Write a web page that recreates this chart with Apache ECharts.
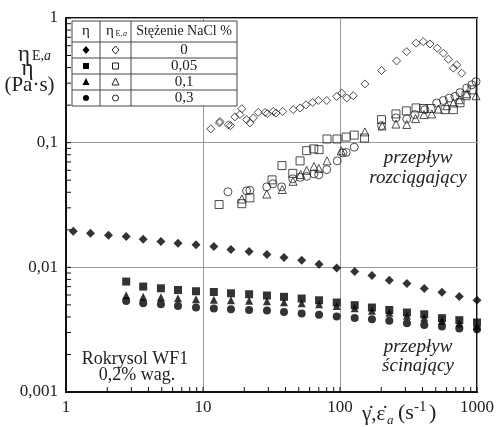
<!DOCTYPE html>
<html>
<head>
<meta charset="utf-8">
<script src="https://cdn.jsdelivr.net/npm/echarts@6/dist/echarts.min.js"></script>
<style>html,body{margin:0;padding:0;background:#fff}#chart{width:503px;height:427px}</style>
</head>
<body>
<div id="chart"></div>
<script>
// shear viscosity (filled symbols), one shear-rate grid for all
var shearRate = [1.13, 1.51, 2.04, 2.75, 3.66, 4.93, 6.57, 8.89, 12.0, 16.0, 21.7, 29.3, 39, 52.5, 70.3, 94.6, 128, 171, 229, 308, 412, 555, 743, 1000];
var eta0 = [0.0195, 0.0188, 0.0181, 0.0177, 0.0168, 0.0161, 0.0156, 0.0152, 0.0147, 0.0139, 0.0134, 0.0127, 0.0120, 0.0114, 0.0106, 0.00987, 0.00924, 0.00859, 0.00787, 0.00741, 0.00676, 0.00631, 0.00583, 0.00544];
var eta005 = [0.00769, 0.00701, 0.00679, 0.00658, 0.00643, 0.00634, 0.00619, 0.00608, 0.00594, 0.00580, 0.00562, 0.00544, 0.00522, 0.00497, 0.00476, 0.00455, 0.00434, 0.00420, 0.00391, 0.00377, 0.00361];
var eta01 = [0.00597, 0.00581, 0.00575, 0.00565, 0.00555, 0.00550, 0.00545, 0.00540, 0.00535, 0.00525, 0.00515, 0.00506, 0.00490, 0.00470, 0.00449, 0.00433, 0.00409, 0.00394, 0.00373, 0.00356, 0.00337];
var eta03 = [0.00537, 0.00515, 0.00506, 0.00490, 0.00476, 0.00467, 0.00461, 0.00455, 0.00450, 0.00439, 0.00426, 0.00416, 0.00403, 0.00393, 0.00384, 0.00372, 0.00356, 0.00344, 0.00335, 0.00323, 0.00319];

// extensional viscosity (open symbols)
var extRate0 = [11.4, 13.2, 13.3, 15.3, 15.9, 17.1, 18.6, 19.2, 20.8, 22.0, 23.3, 25.3, 28.4, 29.5, 32.6, 34.1, 38.2, 45.6, 51.1, 56.5, 63.2, 69.5, 80.0, 94.6, 103, 112, 125, 152, 201, 259, 307, 359, 405, 454, 513, 568, 618, 672, 711, 773];
var etaE0 = [0.129, 0.144, 0.148, 0.139, 0.137, 0.161, 0.168, 0.187, 0.153, 0.144, 0.158, 0.175, 0.175, 0.171, 0.178, 0.173, 0.178, 0.184, 0.190, 0.201, 0.210, 0.218, 0.218, 0.235, 0.250, 0.228, 0.238, 0.296, 0.379, 0.453, 0.537, 0.628, 0.646, 0.619, 0.573, 0.522, 0.467, 0.396, 0.421, 0.361];
var extRate005 = [13.1, 19.2, 22.0, 31.9, 37.7, 45.2, 51.1, 57.1, 64.3, 70.3, 80.4, 95.1, 111, 127, 151, 201, 256, 305, 359, 407, 461, 584, 672, 752, 831, 920];
var etaE005 = [0.0319, 0.0324, 0.0361, 0.0503, 0.0655, 0.0567, 0.0714, 0.0863, 0.0891, 0.0879, 0.107, 0.107, 0.111, 0.115, 0.109, 0.153, 0.170, 0.180, 0.190, 0.188, 0.188, 0.184, 0.184, 0.209, 0.238, 0.265];
var extRate01 = [19.2, 29.2, 37.9, 45.4, 51.6, 57.1, 64.6, 70.0, 80.4, 102, 152, 203, 256, 307, 356, 410, 467, 522, 601, 672, 743, 841, 984];
var etaE01 = [0.0353, 0.0387, 0.0421, 0.0490, 0.0555, 0.0600, 0.0643, 0.0622, 0.0715, 0.0860, 0.122, 0.136, 0.141, 0.140, 0.156, 0.168, 0.170, 0.186, 0.198, 0.208, 0.221, 0.247, 0.238];
var extRate03 = [15.2, 20.8, 22.0, 29.2, 32.4, 37.5, 45.2, 51.1, 57.1, 64.6, 70.0, 80.0, 95.5, 105, 111, 127, 201, 256, 307, 352, 417, 508, 568, 628, 691, 751, 841, 915, 984];
var etaE03 = [0.0404, 0.0411, 0.0415, 0.0442, 0.0468, 0.0442, 0.0513, 0.0527, 0.0537, 0.0562, 0.0552, 0.0608, 0.0715, 0.0828, 0.0835, 0.0920, 0.137, 0.158, 0.155, 0.168, 0.184, 0.208, 0.218, 0.228, 0.235, 0.252, 0.274, 0.291, 0.309];

var concLabels = ['0', '0,05', '0,1', '0,3'];
var xTicks = [1, 2, 3, 4, 5, 6, 7, 8, 9, 10, 20, 30, 40, 50, 60, 70, 80, 90, 100, 200, 300, 400, 500, 600, 700, 800, 900, 1000];
var yTicks = [0.001, 0.002, 0.003, 0.004, 0.005, 0.006, 0.007, 0.008, 0.009, 0.01, 0.02, 0.03, 0.04, 0.05, 0.06, 0.07, 0.08, 0.09, 0.1, 0.2, 0.3, 0.4, 0.5, 0.6, 0.7, 0.8, 0.9, 1];

var serif = '"Liberation Serif", "Times New Roman", serif';
var xMin = xTicks[0], xMax = xTicks[xTicks.length - 1];
var yMin = yTicks[0], yMax = yTicks[yTicks.length - 1];

function pairs(xs, ys) {
	return ys.map(function (y, i) { return [xs[i], y]; });
}

function filled(name, symbol, size, data) {
	return {
		name: name, type: 'scatter',
		symbol: symbol, symbolSize: size, data: data,
		itemStyle: {color: '#000'}, z: 3
	};
}
function open(name, symbol, size, data) {
	return {
		name: name, type: 'scatter',
		symbol: symbol, symbolSize: size, data: data,
		itemStyle: {color: 'rgba(0,0,0,0)', borderColor: '#222', borderWidth: 1}, z: 4
	};
}

// inward log ticks (2..9 in each decade), placed through the axes
function tickSeries(vertical) {
	var data = vertical ? yTicks.map(function (v) { return [xMin, v]; })
	                    : xTicks.map(function (v) { return [v, yMin]; });
	return {
		type: 'custom', silent: true, clip: false, z: 5, data: data,
		renderItem: function (params, api) {
			var p = api.coord([api.value(0), api.value(1)]);
			return {
				type: 'line',
				shape: vertical ? {x1: p[0], y1: p[1], x2: p[0] + 5, y2: p[1]}
				                : {x1: p[0], y1: p[1], x2: p[0], y2: p[1] - 5},
				style: {stroke: '#111', lineWidth: 1}
			};
		}
	};
}

// legend table glyphs
function glyph(kind, cx, cy, solid) {
	var st = solid ? {fill: '#000'} : {fill: 'none', stroke: '#222', lineWidth: 1};
	if (kind == 'diamond') return {type: 'polygon', shape: {points: [[cx, cy - 4], [cx + 3.5, cy], [cx, cy + 4], [cx - 3.5, cy]]}, style: st, z: 101};
	if (kind == 'rect') return {type: 'rect', shape: {x: cx - 3, y: cy - 3, width: 6, height: 6}, style: st, z: 101};
	if (kind == 'triangle') return {type: 'polygon', shape: {points: [[cx, cy - 4], [cx + 3.5, cy + 3], [cx - 3.5, cy + 3]]}, style: st, z: 101};
	return {type: 'circle', shape: {cx: cx, cy: cy, r: 3}, style: st, z: 101};
}
function txt(s, x, y, size, opts) {
	opts = opts || {};
	return {
		type: 'text', x: x, y: y, z: 102,
		style: {
			text: s, fill: '#222',
			font: (opts.italic ? 'italic ' : '') + size + 'px ' + serif,
			textAlign: opts.align || 'center', align: opts.align || 'center',
			textVerticalAlign: 'middle', verticalAlign: 'middle'
		}
	};
}

var kinds = ['diamond', 'rect', 'triangle', 'circle'];
var rowY = [50, 66, 82, 98];
var table = [
	{type: 'rect', shape: {x: 72, y: 21, width: 165, height: 85}, style: {fill: '#fff', stroke: '#444', lineWidth: 1}, z: 100},
	{type: 'line', shape: {x1: 100, y1: 21, x2: 100, y2: 106}, style: {stroke: '#444', lineWidth: 1}, z: 100},
	{type: 'line', shape: {x1: 131, y1: 21, x2: 131, y2: 106}, style: {stroke: '#444', lineWidth: 1}, z: 100},
	{type: 'line', shape: {x1: 72, y1: 42, x2: 237, y2: 42}, style: {stroke: '#444', lineWidth: 1}, z: 100},
	{type: 'line', shape: {x1: 72, y1: 58, x2: 237, y2: 58}, style: {stroke: '#444', lineWidth: 1}, z: 100},
	{type: 'line', shape: {x1: 72, y1: 74, x2: 237, y2: 74}, style: {stroke: '#444', lineWidth: 1}, z: 100},
	{type: 'line', shape: {x1: 72, y1: 90, x2: 237, y2: 90}, style: {stroke: '#444', lineWidth: 1}, z: 100},
	txt('η', 86, 31, 15),
	txt('η', 110, 31, 15),
	txt('E,', 119, 34, 8, {align: 'center'}),
	txt('a', 125, 34, 8, {italic: true}),
	txt('Stężenie NaCl %', 184, 31, 14)
];
kinds.forEach(function (k, i) {
	table.push(glyph(k, 86, rowY[i], true));
	table.push(glyph(k, 115.5, rowY[i], false));
	table.push(txt(concLabels[i], 184, rowY[i], 15));
});

var notes = [
	txt('przepływ', 418, 158, 19, {italic: true}),
	txt('rozciągający', 418, 178, 19, {italic: true}),
	txt('przepływ', 418, 347, 19, {italic: true}),
	txt('ścinający', 418, 366, 19, {italic: true}),
	txt('Rokrysol WF1', 135, 359, 18),
	txt('0,2% wag.', 137, 375, 18),
	// y axis title
	txt('η', 18, 55, 23, {align: 'left'}),
	txt('E,', 32, 56, 14, {align: 'left'}),
	txt('a', 44, 56, 14, {align: 'left', italic: true}),
	txt('η', 27.5, 69, 23),
	txt('(Pa·s)', 29.5, 85, 21),
	// x axis title
	txt('γ\u0307,ε\u0307', 362, 414, 21, {align: 'left'}),
	txt('a', 387, 421, 13, {align: 'left', italic: true}),
	txt('(s', 398, 413, 22, {align: 'left'}),
	txt('-1', 414, 407, 15, {align: 'left'}),
	txt(')', 429, 413, 22, {align: 'left'})
];

function mainAxis(min, max, fmt, margin) {
	return {
		type: 'log', logBase: 10, min: min, max: max,
		axisLine: {show: true, lineStyle: {color: '#111', width: 2}},
		axisTick: {show: false},
		axisLabel: {color: '#222', fontFamily: serif, fontSize: 17, margin: margin, formatter: fmt},
		splitLine: {show: true, lineStyle: {color: '#9a9a9a', width: 1}}
	};
}

var chart = echarts.init(document.getElementById('chart'));
chart.setOption({
	animation: false,
	backgroundColor: '#fff',
	grid: {left: 66, top: 18, width: 411, height: 374, show: true, borderColor: '#111', borderWidth: 2, backgroundColor: 'transparent'},
	xAxis: mainAxis(xMin, xMax, function (v) { return String(+v.toPrecision(2)); }, 7),
	yAxis: mainAxis(yMin, yMax, function (v) { return String(+v.toPrecision(2)).replace('.', ','); }, 8),
	graphic: table.concat(notes),
	series: [
		tickSeries(false),
		tickSeries(true),
		filled('eta0', 'diamond', 9, pairs(shearRate, eta0)),
		filled('eta005', 'rect', 8, pairs(shearRate.slice(3), eta005)),
		filled('eta01', 'triangle', 8, pairs(shearRate.slice(3), eta01)),
		filled('eta03', 'circle', 8, pairs(shearRate.slice(3), eta03)),
		open('etaE0', 'diamond', 8, pairs(extRate0, etaE0)),
		open('etaE005', 'rect', 8, pairs(extRate005, etaE005)),
		open('etaE01', 'triangle', 8, pairs(extRate01, etaE01)),
		open('etaE03', 'circle', 8, pairs(extRate03, etaE03))
	]
});
</script>
</body>
</html>
